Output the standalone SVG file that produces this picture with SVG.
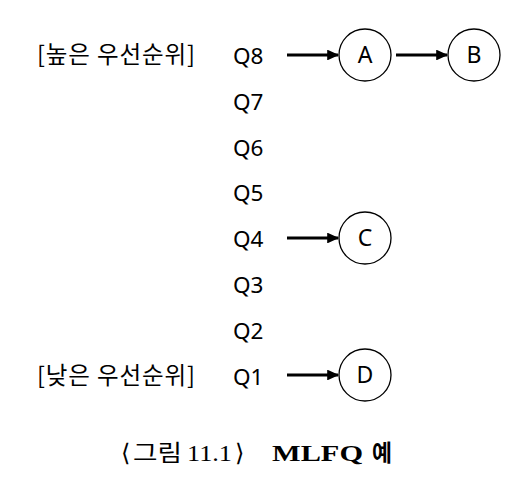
<svg xmlns="http://www.w3.org/2000/svg" width="515" height="477" viewBox="0 0 515 477">
<style>
.t{font-family:"Noto Sans CJK KR","Noto Sans",sans-serif;font-size:23.5px;fill:#000}
.q{font-family:"Noto Sans","Liberation Sans",sans-serif;font-size:22.5px;fill:#000}
.n{fill:#fff;stroke:#000;stroke-width:1.3}
.nl{font-family:"Noto Sans","Liberation Sans",sans-serif;font-size:23px;text-anchor:middle;fill:#000}
.e{stroke:#000;stroke-width:3;fill:none;marker-end:url(#ah)}
.cap{font-family:"Liberation Serif","DejaVu Serif",serif;font-size:24px;fill:#000}
.capk{font-family:"Noto Sans CJK KR",sans-serif;font-size:23px;fill:#000}
</style>
<defs>
<marker id="ah" markerWidth="4" markerHeight="3.6" refX="3.6" refY="1.8" orient="auto" markerUnits="strokeWidth">
<path d="M0,0 L4,1.8 L0,3.6 z" fill="#000"/>
</marker>
</defs>
<rect width="515" height="477" fill="#fff"/>
<g id="labels">
<text class="t" x="37" y="63" textLength="158" lengthAdjust="spacing">[높은 우선순위]</text>
<text class="t" x="37" y="384" textLength="158" lengthAdjust="spacing">[낮은 우선순위]</text>
</g>
<g id="queues">
<text class="q" x="233" y="64">Q8</text>
<text class="q" x="233" y="110">Q7</text>
<text class="q" x="233" y="156">Q6</text>
<text class="q" x="233" y="201">Q5</text>
<text class="q" x="233" y="247">Q4</text>
<text class="q" x="233" y="293">Q3</text>
<text class="q" x="233" y="339">Q2</text>
<text class="q" x="233" y="385">Q1</text>
</g>
<g id="connectors">
<line class="e" x1="287" y1="55" x2="338" y2="55"/>
<line class="e" x1="396" y1="55" x2="447" y2="55"/>
<line class="e" x1="287" y1="238" x2="338" y2="238"/>
<line class="e" x1="287" y1="375" x2="338" y2="375"/>
</g>
<g id="node-A"><circle class="n" cx="365" cy="55" r="26"/><text class="nl" x="365" y="63">A</text></g>
<g id="node-B"><circle class="n" cx="474" cy="55" r="26"/><text class="nl" x="474" y="63">B</text></g>
<g id="node-C"><circle class="n" cx="365" cy="238" r="26"/><text class="nl" x="365" y="246">C</text></g>
<g id="node-D"><circle class="n" cx="365" cy="375" r="26"/><text class="nl" x="365" y="383">D</text></g>
<g id="caption">
<text class="cap" x="121" y="461" font-family="DejaVu Serif" font-size="25">⟨</text>
<text class="capk" x="133" y="461" textLength="49" lengthAdjust="spacingAndGlyphs">그림</text>
<text class="cap" x="187" y="461" textLength="45" lengthAdjust="spacingAndGlyphs">11.1</text>
<text class="cap" x="235" y="461" font-family="DejaVu Serif" font-size="25">⟩</text>
<text class="cap" x="272" y="461" font-weight="bold" textLength="91" lengthAdjust="spacingAndGlyphs">MLFQ</text>
<text class="capk" x="372" y="461" font-weight="bold" textLength="20" lengthAdjust="spacingAndGlyphs">예</text>
</g>
</svg>
